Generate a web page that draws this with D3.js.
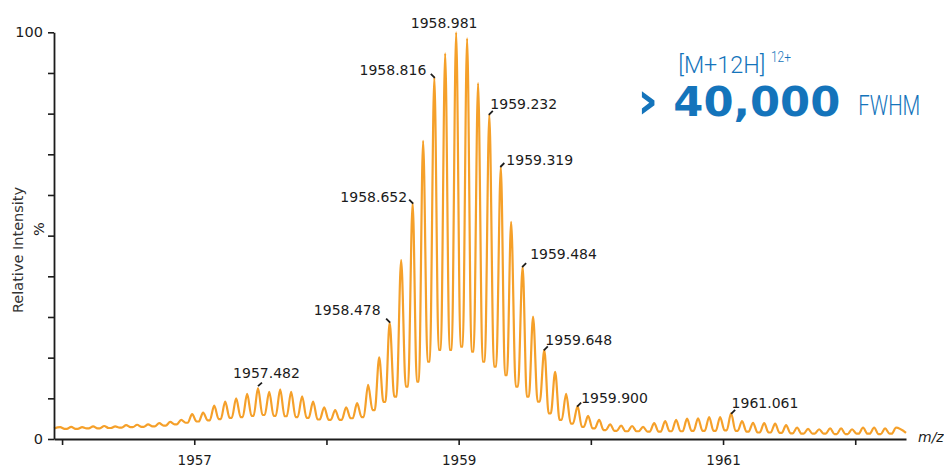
<!DOCTYPE html>
<html><head><meta charset="utf-8">
<script src="https://cdn.jsdelivr.net/npm/d3@7"></script>
<style>html,body{margin:0;padding:0;background:#fff;} svg{display:block;}</style>
</head><body>
<svg id="chart" width="944" height="468"></svg>
<script>
// ---- data ----
const peakMz = [
 1955.986, 1956.069, 1956.152, 1956.235, 1956.319, 1956.402, 1956.485, 1956.568, 1956.651, 1956.735,
 1956.818, 1956.901, 1956.984, 1957.067, 1957.151, 1957.234, 1957.317, 1957.400, 1957.482, 1957.567,
 1957.650, 1957.733, 1957.816, 1957.899, 1957.983, 1958.066, 1958.149, 1958.232, 1958.315, 1958.399,
 1958.478, 1958.565, 1958.652, 1958.731, 1958.816, 1958.898, 1958.981, 1959.064, 1959.147, 1959.232,
 1959.319, 1959.397, 1959.484, 1959.563, 1959.648, 1959.730, 1959.813, 1959.900, 1959.979, 1960.063,
 1960.146, 1960.229, 1960.312, 1960.395, 1960.479, 1960.562, 1960.645, 1960.728, 1960.811, 1960.895,
 1960.978, 1961.061, 1961.144, 1961.227, 1961.311, 1961.394, 1961.477, 1961.560, 1961.643, 1961.727,
 1961.810, 1961.893, 1961.976, 1962.059, 1962.143, 1962.226, 1962.309
];
const peakInt = [
 2.9, 3.0, 2.9, 3.1, 3.2, 3.1, 3.4, 3.5, 3.6, 3.9,
 4.2, 4.7, 6.1, 6.5, 8.2, 9.2, 10.0, 11.1, 12.5, 11.6,
 12.2, 11.6, 10.5, 9.2, 7.8, 7.1, 7.8, 8.8, 13.3, 20.1,
 28.6, 44.0, 58.0, 73.3, 88.9, 94.8, 100, 98.5, 87.5, 79.8,
 67.0, 53.4, 42.4, 30.1, 21.9, 16.5, 11.1, 8.1, 5.7, 4.7,
 3.6, 3.3, 3.2, 3.0, 3.9, 4.4, 4.7, 5.0, 5.1, 5.4,
 5.4, 6.3, 4.4, 4.0, 3.9, 3.8, 3.4, 2.8, 2.5, 2.4,
 2.6, 2.6, 2.4, 2.8, 2.8, 2.6, 2.8
];
const valleyInt = [
 2.5, 2.5, 2.6, 2.6, 2.7, 2.8, 2.9, 3.0, 3.1, 3.3,
 3.6, 4.0, 4.3, 4.6, 4.9, 5.2, 5.4, 5.7, 5.9, 5.7,
 5.6, 5.4, 5.2, 4.8, 4.7, 4.7, 5.1, 5.4, 7.1, 9.1,
 10.4, 12.9, 14.1, 19.0, 21.9, 21.9, 22.7, 21.5, 19.0, 17.8,
 15.7, 12.9, 10.4, 9.2, 6.3, 4.7, 3.8, 3.0, 2.6, 2.2,
 2.0, 1.9, 1.9, 1.8, 1.8, 1.9, 1.9, 2.0, 2.0, 2.0,
 2.1, 2.0, 1.8, 1.6, 1.6, 1.5, 1.4, 1.3, 1.3, 1.3,
 1.2, 1.2, 1.3, 1.3, 1.2, 1.3
];
const edgeInt = [2.6, 1.5];           // intensity at the left / right end of the window
const xRange = [1955.939, 1962.384];  // m/z window
const xTicks = [1956, 1957, 1958, 1959, 1960, 1961, 1962];
const xTickLabels = ["1957", "1959", "1961"];
const yTicks = [0, 10, 20, 30, 40, 50, 60, 70, 80, 90, 100];
const yTickLabels = ["0", "100"];
const peakLabels = ["1958.981", "1958.816", "1958.652", "1958.478", "1959.232", "1959.319",
                    "1959.484", "1959.648", "1959.900", "1961.061", "1957.482"];
const titleIon = "[M+12H]";
const titleCharge = "12+";
const titleGt = "\u203A";
const titleValue = "40,000";
const titleUnit = "FWHM";

// ---- layout / style ----
const labelLayout = [
 {anchor:"middle", dx:-12,  dy:-4.5, leader:null},
 {anchor:"end",    dx:-8,   dy:-2.5, leader:[-3.5,-3.5,0.5,0.5]},
 {anchor:"end",    dx:-5.5, dy:-1,   leader:[-3.5,-3.5,0.5,0.5]},
 {anchor:"end",    dx:-9,   dy:-7.5, leader:[-3.5,-4,0.5,0]},
 {anchor:"start",  dx:1,    dy:-5.5, leader:[-0.5,0.5,3.5,-3.5]},
 {anchor:"start",  dx:5.5,  dy:-2,   leader:[-0.5,0.5,3.5,-3.5]},
 {anchor:"start",  dx:7.5,  dy:-7.5, leader:[-0.5,0.5,3.5,-3.5]},
 {anchor:"start",  dx:1,    dy:-5,   leader:[-0.5,0.5,3.5,-3.5]},
 {anchor:"start",  dx:3.5,  dy:-3.5, leader:[-0.5,0.5,3.5,-3.5]},
 {anchor:"start",  dx:0.5,  dy:-5,   leader:[0,0.5,4,-3.5]},
 {anchor:"middle", dx:8.5,  dy:-10.5,leader:[0,-2,4,-5.5]}
];
const ORANGE = "#f5a02a";
const BLUE = "#1474bb";
const INK = "#1c1c1c";
const FONT = "'DejaVu Sans', Verdana, sans-serif";

const svg = d3.select("#chart");
const x = d3.scaleLinear().domain(xRange).range([54, 906]);
const y = d3.scaleLinear().domain([0, 100]).range([439, 32.3]);

// spectrum points: peaks plus short valley floors between them
const pts = [[xRange[0], edgeInt[0]]];
peakMz.forEach((m, i) => {
  pts.push([m, peakInt[i]]);
  if (i < peakMz.length - 1) {
    const s = peakMz[i + 1] - m;
    pts.push([m + s * 0.4, valleyInt[i]]);
    pts.push([m + s * 0.6, valleyInt[i]]);
  }
});
pts.push([xRange[1], edgeInt[1]]);

const line = d3.line().x(d => x(d[0])).y(d => y(d[1])).curve(d3.curveMonotoneX);
svg.append("path").datum(pts).attr("d", line)
  .attr("fill", "none").attr("stroke", ORANGE).attr("stroke-width", 2.2)
  .attr("stroke-linejoin", "round");

// axes
const xAxis = svg.append("g").attr("transform", `translate(0,${y(0)})`)
  .call(d3.axisBottom(x).tickValues(xTicks).tickSize(6).tickSizeOuter(0).tickPadding(10)
    .tickFormat(d => xTickLabels.includes(String(d)) ? String(d) : ""));
const yAxis = svg.append("g").attr("transform", `translate(${x(xRange[0])},0)`)
  .call(d3.axisLeft(y).tickValues(yTicks).tickSize(6).tickSizeOuter(0).tickPadding(5)
    .tickFormat(d => yTickLabels.includes(String(d)) ? String(d) : ""));
[xAxis, yAxis].forEach(g => {
  g.attr("color", INK);
  g.select(".domain").attr("stroke-width", 1.8);
  g.selectAll(".tick line").attr("stroke-width", 1.6);
  g.selectAll("text").attr("font-family", FONT).attr("fill", INK);
});
xAxis.selectAll("text").attr("font-size", 13.5);
yAxis.selectAll("text").attr("font-size", 14.5);

// axis titles
svg.append("text").attr("transform", "translate(22.5,250) rotate(-90)")
  .attr("text-anchor", "middle").attr("font-family", FONT).attr("font-size", 14.5)
  .attr("fill", "#333").text("Relative Intensity");
svg.append("text").attr("transform", "translate(44,229) rotate(-90)")
  .attr("text-anchor", "middle").attr("font-family", FONT).attr("font-size", 14.5)
  .attr("fill", INK).text("%");
svg.append("text").attr("x", 918).attr("y", 441.5)
  .attr("font-family", FONT).attr("font-size", 14).attr("font-style", "italic")
  .attr("fill", INK).text("m/z");

// peak annotations
peakLabels.forEach((t, i) => {
  const idx = d3.leastIndex(peakMz, m => Math.abs(m - Number(t)));
  const px = x(peakMz[idx]), py = y(peakInt[idx]);
  const L = labelLayout[i];
  if (L.leader) {
    svg.append("line")
      .attr("x1", px + L.leader[0]).attr("y1", py + L.leader[1])
      .attr("x2", px + L.leader[2]).attr("y2", py + L.leader[3])
      .attr("stroke", INK).attr("stroke-width", 1.8);
  }
  svg.append("text").attr("x", px + L.dx).attr("y", py + L.dy)
    .attr("text-anchor", L.anchor).attr("font-family", FONT).attr("font-size", 14)
    .attr("fill", INK).text(t);
});

// resolution call-out
const light = "Roboto, 'Open Sans', sans-serif";
svg.append("text").attr("x", 678.3).attr("y", 72.7)
  .attr("font-family", light).attr("font-weight", 300).attr("font-size", 24)
  .attr("textLength", 87).attr("lengthAdjust", "spacingAndGlyphs")
  .attr("fill", BLUE).text(titleIon);
svg.append("text").attr("x", 771).attr("y", 62)
  .attr("font-family", light).attr("font-weight", 300).attr("font-size", 14)
  .attr("textLength", 20).attr("lengthAdjust", "spacingAndGlyphs")
  .attr("fill", BLUE).text(titleCharge);
svg.append("text").attr("x", 637).attr("y", 118)
  .attr("font-family", FONT).attr("font-weight", "bold").attr("font-size", 52)
  .attr("fill", BLUE).text(titleGt);
svg.append("text").attr("x", 673.3).attr("y", 115.5)
  .attr("font-family", FONT).attr("font-weight", "bold").attr("font-size", 41)
  .attr("textLength", 167).attr("lengthAdjust", "spacingAndGlyphs")
  .attr("fill", BLUE).text(titleValue);
svg.append("text").attr("x", 858.3).attr("y", 115)
  .attr("font-family", light).attr("font-weight", 300).attr("font-size", 28)
  .attr("textLength", 62).attr("lengthAdjust", "spacingAndGlyphs")
  .attr("fill", BLUE).text(titleUnit);
</script>
</body></html>
